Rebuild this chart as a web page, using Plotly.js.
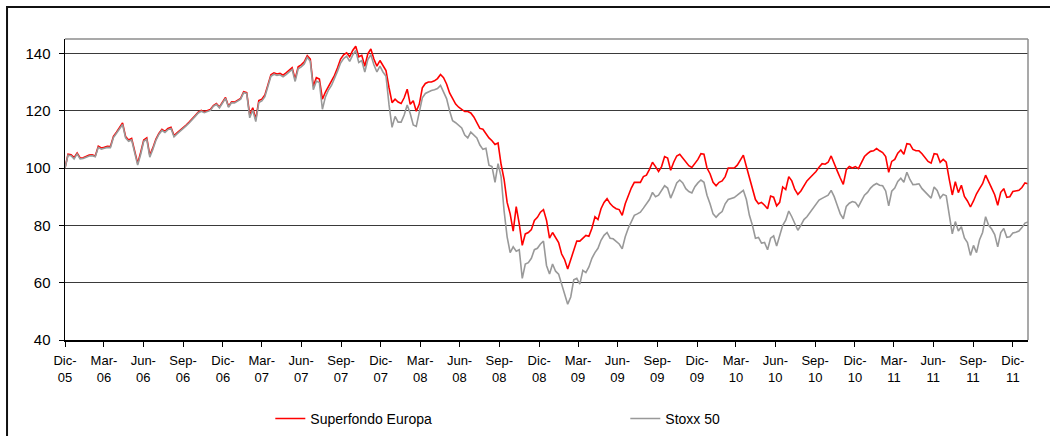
<!DOCTYPE html>
<html>
<head>
<meta charset="utf-8">
<script src="https://cdn.plot.ly/plotly-3.0.1.min.js"></script>
<style>
  html, body { margin: 0; padding: 0; background: #ffffff; }
  #chart { width: 1050px; height: 436px; }
</style>
</head>
<body>
<div id="chart"></div>
<script>
// Weekly observations starting 31-Dec-2005
const startDate = '2005-12-31';

const superfondoEuropa = [
  100, 104.8, 104.6, 103.6, 105.2, 103.5, 103.6, 104.1, 104.5, 104.6,
  104.2, 107.6, 107, 107.2, 107.6, 107.5, 111, 112.5, 114.2, 115.7,
  111, 109.8, 110.3, 105.6, 101.6, 105.5, 109.8, 110.5, 104.5, 107,
  110, 112.1, 113.5, 112.8, 113.8, 114.2, 111.3, 112.3, 113.2, 113.8,
  115, 116, 117, 118.3, 119.5, 120.1, 119.6, 119.9, 120.4, 121.8,
  122.5, 121.3, 123, 124.6, 121.5, 123.1, 123, 123.6, 124.3, 126.6,
  126.3, 118.5, 121, 117, 123.5, 124, 125.5, 129, 132.5, 133.2,
  132.8, 133, 132.4, 133.2, 134, 135, 131, 135.3, 136, 137,
  139.2, 138, 128.5, 131.5, 131, 124, 126.5, 128.5, 130, 132.3,
  135, 138, 139.5, 140.2, 138.8, 141, 142.5, 138.8, 139.3, 135.5,
  139.8, 141.5, 138, 135.5, 137.5, 135.5, 134, 128, 122.8, 124,
  123, 122.5, 124.5, 127.5, 122.2, 123.5, 119.8, 122.3, 128, 129.5,
  130, 130, 130.4, 131.2, 132.6, 131.5, 129.3, 126.2, 124.5, 122.3,
  121.2, 120.5, 119.7, 119.7, 119.2, 117.8, 116, 113.8, 113.5, 112,
  110.5, 109.5, 108.2, 108.7, 101.3, 96, 88, 84, 78, 86.5,
  80.5, 73, 77, 77.5, 78.5, 81.7, 82.8, 84.6, 85.5, 81.8,
  75.5, 77.5, 75.5, 74, 70, 68, 64.8, 68, 71.3, 74.5,
  74.5, 75.5, 76.5, 76.2, 79, 83, 82, 85.8, 88, 89.3,
  87.6, 86.5, 85.8, 85.5, 83.5, 87.5, 90.5, 93, 95, 95,
  95, 97, 97.5, 99.5, 102, 100.5, 98.8, 100.5, 104, 103.5,
  99.2, 102, 104.2, 104.8, 103.5, 102, 100.8, 100.2, 101.7, 103,
  105, 104.8, 100, 98, 95, 93.8, 95, 95.5, 97, 100,
  100, 100, 101, 102.8, 104.5, 100.5, 96.6, 92.3, 89, 87.5,
  88, 87, 85.8, 90.2, 89.8, 86.8, 88, 93.4, 92.5, 97,
  95.5, 92.5, 90.8, 92, 94, 95.5, 96.6, 97.7, 98.8, 100.3,
  101.5, 101.3, 102, 104.2, 101.9, 99, 96.5, 94.3, 99.4, 100.5,
  100, 100.5, 99.8, 102, 104, 105, 105.8, 106, 106.8, 106,
  105.4, 104, 98.5, 102.3, 103, 105.2, 106.3, 104.8, 108.5, 108.3,
  106.5, 106, 106, 105, 103.8, 102.3, 101.7, 105, 104.8, 102,
  103, 102, 96, 90.6, 95.2, 91.4, 94, 90.1, 88.5, 86.4,
  88.5, 91, 92.8, 94.5, 97.5, 95, 93, 90.7, 87, 91.5,
  92.8, 89.8, 90, 91.8, 92.1, 92.2, 93.2, 94.8, 94.5
];

const stoxx50 = [
  100, 104.5, 104.3, 103.2, 104.9, 103.2, 103.3, 103.8, 104.2, 104.3,
  103.9, 107.2, 106.6, 106.9, 107.2, 107.1, 110.6, 112.1, 113.8, 115.2,
  110.5, 109.3, 109.8, 104.9, 101, 104.8, 109.3, 110, 103.8, 106.5,
  109.6, 111.7, 113.1, 112.4, 113.4, 113.8, 110.9, 111.9, 112.8, 113.5,
  114.7, 115.7, 116.7, 118, 119.2, 119.8, 119.3, 119.6, 120.1, 121.5,
  122.2, 121, 122.7, 124.3, 121.2, 122.8, 122.7, 123.3, 124, 126.3,
  126, 117.5, 120.2, 116.2, 122.8, 123.4, 124.9, 128.4, 132, 132.7,
  132.3, 132.5, 131.8, 132.6, 133.4, 134.4, 130.2, 134.6, 135.3, 136.3,
  138.6, 137.2, 127.3, 130.3, 129.8, 120.5, 124.8, 127.2, 128.8, 131,
  133.8, 136.6, 138.2, 139, 137.2, 139.4, 141, 136.8, 137.5, 133.5,
  137.8, 139.5, 136, 133.5, 135.5, 133.5, 132, 122, 114.2, 118,
  116, 116, 118.5, 122, 119, 115, 114.5, 119.5, 124.5, 126,
  126.6, 127, 127.3, 127.7, 128.8, 126.5, 124.2, 120, 116.5, 115.8,
  114.8, 114, 111.5, 110.5, 112.5, 111.5, 110.5, 108, 106.5, 106.9,
  101, 100.5, 95, 101.5, 97, 85, 76, 70.5, 72.5, 71,
  71.5, 61.5, 66.5, 67, 68.5, 71.5, 72, 73.5, 74.5, 66,
  63, 66.5, 64, 63, 59.5, 56.4, 52.5, 55, 61, 61.5,
  59.5, 64.3, 63.5, 65.5, 68.5, 70.5, 72, 74.8, 76.5, 77.5,
  75.5, 75.3, 74.5, 73.5, 71.8, 76, 79, 81.4, 83.5, 84,
  84.6, 86, 87.5, 89, 91.5, 90, 90.5, 92, 93.8, 93,
  89.5, 92, 94.8, 95.8, 94.8, 92.8, 91.8, 91.3, 93.5, 94.8,
  95.8, 95, 90.5, 87.5, 84, 82.8, 84, 84.8, 87.5, 89,
  89.3, 89.7, 90.5, 91.5, 92.2, 89, 83.5, 80, 75.5, 75.8,
  73.8, 74, 71.5, 75.5, 76.3, 72.8, 76.2, 80, 81.8, 85,
  83, 80.5, 78.3, 80, 82, 83, 84.5, 86, 87.2, 88.8,
  89.4, 90, 90.5, 92.2, 90, 87, 84, 82.3, 86.6, 87.7,
  88.3, 88, 86.5, 88.5, 90.5, 91.5, 93, 94, 94.6, 94,
  93.8, 92, 86.8, 91.9, 93, 95.3, 96.4, 95, 98.5, 96,
  94.2, 94.3, 94.5, 92.8, 91.7, 90.6, 89.5, 93.4, 92.2, 89.5,
  90.8, 90.3, 84, 77, 81.3, 78, 79.5, 75.6, 74, 69.5,
  73, 70.5, 75, 77.5, 83, 80, 78.7, 76.8, 72.5, 77.5,
  78.9, 75.8, 76, 77.3, 77.6, 78, 79.2, 80.8, 81.2
];

const tickDates = [
  '2005-12-31','2006-03-31','2006-06-30','2006-09-30','2006-12-31',
  '2007-03-31','2007-06-30','2007-09-30','2007-12-31',
  '2008-03-31','2008-06-30','2008-09-30','2008-12-31',
  '2009-03-31','2009-06-30','2009-09-30','2009-12-31',
  '2010-03-31','2010-06-30','2010-09-30','2010-12-31',
  '2011-03-31','2011-06-30','2011-09-30','2011-12-31'
];
const tickLabels = [
  'Dic-<br>05','Mar-<br>06','Jun-<br>06','Sep-<br>06','Dic-<br>06',
  'Mar-<br>07','Jun-<br>07','Sep-<br>07','Dic-<br>07',
  'Mar-<br>08','Jun-<br>08','Sep-<br>08','Dic-<br>08',
  'Mar-<br>09','Jun-<br>09','Sep-<br>09','Dic-<br>09',
  'Mar-<br>10','Jun-<br>10','Sep-<br>10','Dic-<br>10',
  'Mar-<br>11','Jun-<br>11','Sep-<br>11','Dic-<br>11'
];
const yTicks = [40, 60, 80, 100, 120, 140];

const t0 = Date.parse(startDate + 'T00:00:00Z');
const dates = superfondoEuropa.map((_, i) =>
  new Date(t0 + i * 7 * 86400000).toISOString().slice(0, 10));

const FONT = 'Liberation Sans, Arial, sans-serif';

const traces = [
  {
    x: dates, y: superfondoEuropa, type: 'scatter', mode: 'lines',
    name: 'Superfondo Europa',
    line: { color: '#ff0000', width: 1.6 }
  },
  {
    x: dates, y: stoxx50, type: 'scatter', mode: 'lines',
    name: 'Stoxx 50',
    line: { color: '#999999', width: 1.6 }
  }
];

const layout = {
  width: 1050, height: 436,
  margin: { l: 65, r: 22, t: 39, b: 96, autoexpand: false },
  paper_bgcolor: '#ffffff', plot_bgcolor: '#ffffff',
  font: { family: FONT, size: 13, color: '#000000' },
  showlegend: true,
  legend: {
    orientation: 'h', x: 0.2132, xanchor: 'left', y: -0.209, yanchor: 'top',
    font: { family: FONT, size: 14, color: '#000000' },
    entrywidth: 310, entrywidthmode: 'pixels',
    bgcolor: 'rgba(0,0,0,0)', borderwidth: 0
  },
  xaxis: {
    type: 'date',
    range: [dates[0], dates[dates.length - 1]],
    tickmode: 'array', tickvals: tickDates, ticktext: tickLabels,
    ticks: 'outside', ticklen: 5, tickcolor: '#000', tickwidth: 1,
    showline: true, linecolor: '#000', linewidth: 1.5,
    showgrid: false, zeroline: false,
    tickfont: { family: FONT, size: 13, color: '#000' },
    tickangle: 0,
    ticklabelstandoff: 3
  },
  yaxis: {
    range: [40, 145],
    tickmode: 'array', tickvals: yTicks,
    ticks: 'outside', ticklen: 5, tickcolor: '#000', tickwidth: 1,
    showline: true, linecolor: '#000', linewidth: 1.5,
    showgrid: true, gridcolor: '#3a3a3a', gridwidth: 1,
    zeroline: false,
    tickfont: { family: FONT, size: 15, color: '#000' },
    ticklabelstandoff: 5
  },
  shapes: [
    { type: 'line', xref: 'paper', yref: 'paper', x0: 0, x1: 1, y0: 1, y1: 1,
      line: { color: '#8c8c8c', width: 1.5 } },
    { type: 'line', xref: 'paper', yref: 'paper', x0: 1, x1: 1, y0: 0, y1: 1,
      line: { color: '#8c8c8c', width: 1.5 } },
    { type: 'rect', xref: 'paper', yref: 'paper',
      x0: -0.0602, x1: 1.2, y0: -0.6, y1: 1.1063,
      line: { color: '#111111', width: 2 }, fillcolor: 'rgba(0,0,0,0)' }
  ]
};

Plotly.newPlot('chart', traces, layout, { staticPlot: true, displayModeBar: false });
</script>
</body>
</html>
